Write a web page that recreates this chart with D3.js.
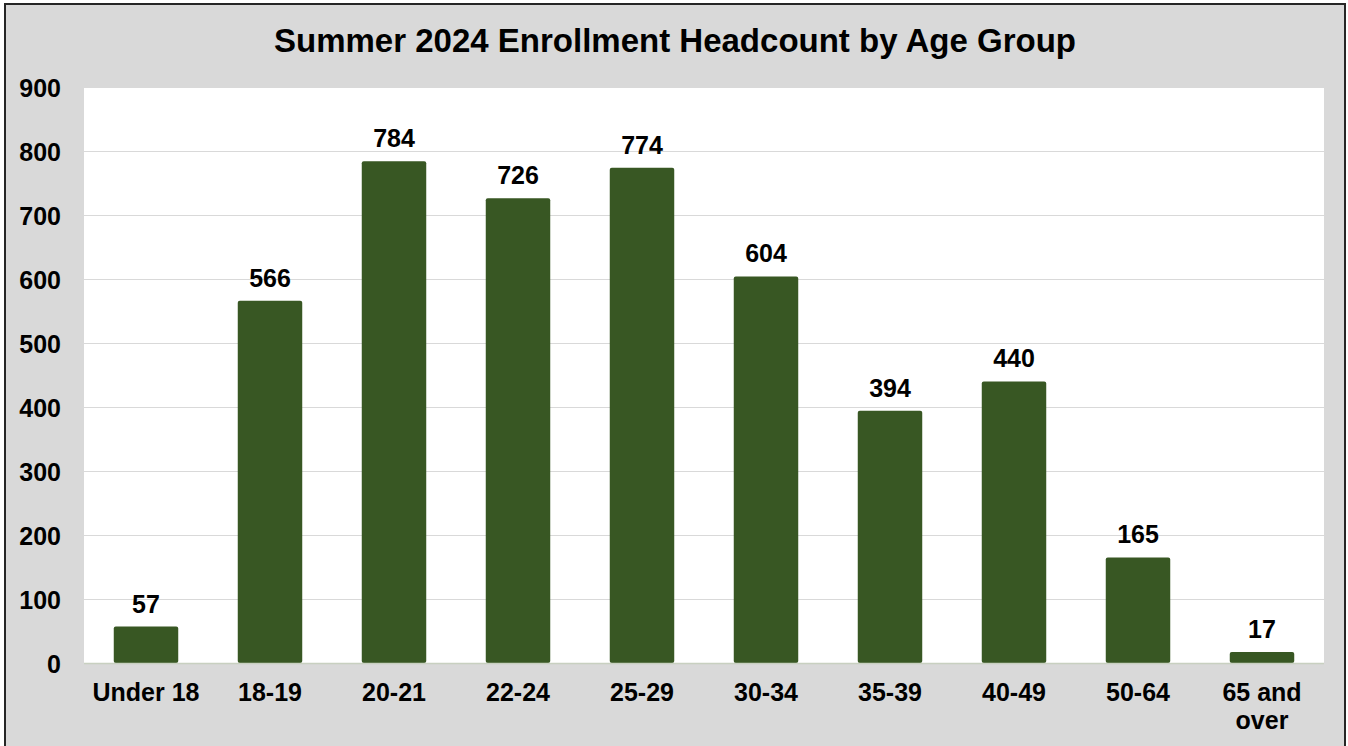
<!DOCTYPE html>
<html><head><meta charset="utf-8">
<script src="https://cdn.jsdelivr.net/npm/d3@7"></script>
<style>body{margin:0;background:#fff;}svg{display:block;font-family:Arial,"Liberation Sans",sans-serif;}</style>
</head><body>
<svg id="c" width="1348" height="746"></svg>
<script>
const categories = ["Under 18","18-19","20-21","22-24","25-29","30-34","35-39","40-49","50-64","65 and over"];
const values = [57,566,784,726,774,604,394,440,165,17];
const yTicks = [0,100,200,300,400,500,600,700,800,900];
const title = "Summer 2024 Enrollment Headcount by Age Group";

const W = 1348, H = 746;
const FONT = "Arial,'Liberation Sans',sans-serif";
const svg = d3.select("#c");
svg.append("rect").attr("x",0).attr("y",0).attr("width",W).attr("height",H).attr("fill","#fff");
svg.append("rect").attr("x",5).attr("y",4).attr("width",1340).attr("height",760)
  .attr("fill","#d9d9d9").attr("stroke","#262626").attr("stroke-width",2);

const m = {left:84, right:1324, top:87, bottom:663};
const x = d3.scaleBand().domain(categories).range([m.left,m.right]).paddingInner(0.48).paddingOuter(0.24);
const y = d3.scaleLinear().domain([0,900]).range([m.bottom,m.top]);

svg.append("rect").attr("x",m.left).attr("y",m.top).attr("width",m.right-m.left).attr("height",m.bottom-m.top).attr("fill","#fff");

svg.append("g").selectAll("line").data(yTicks.slice(1)).join("line")
  .attr("x1",m.left).attr("x2",m.right).attr("y1",d=>y(d)+0.5).attr("y2",d=>y(d)+0.5)
  .attr("stroke","#d9d9d9").attr("stroke-width",1);

const yAxis = svg.append("g").attr("transform",`translate(${m.left},0)`)
  .call(d3.axisLeft(y).tickValues(yTicks).tickSize(0).tickPadding(23));
yAxis.select(".domain").remove();
yAxis.selectAll("text").attr("font-size",25).attr("font-weight","bold").attr("fill","#000")
  .attr("font-family",FONT).attr("dy","0.36em");

svg.append("g").selectAll("rect").data(values).join("rect")
  .attr("x",(d,i)=>x(categories[i])).attr("width",x.bandwidth())
  .attr("y",d=>y(d)).attr("height",d=>y(0)-y(d))
  .attr("rx",2).attr("fill","#385723");

svg.append("line").attr("x1",m.left).attr("x2",m.right).attr("y1",m.bottom+0.5).attr("y2",m.bottom+0.5)
  .attr("stroke","#c8d0c0").attr("stroke-width",1.5);

svg.append("g").selectAll("text").data(values).join("text")
  .attr("x",(d,i)=>x(categories[i])+x.bandwidth()/2).attr("y",d=>y(d)-14)
  .attr("text-anchor","middle").attr("font-size",25).attr("font-weight","bold").attr("fill","#000")
  .attr("font-family",FONT).text(d=>d);

const xAxis = svg.append("g").attr("transform",`translate(0,${m.bottom})`)
  .call(d3.axisBottom(x).tickSize(0).tickPadding(0));
xAxis.select(".domain").remove();
xAxis.selectAll("text").remove();
xAxis.selectAll(".tick").each(function(d){
  const g = d3.select(this);
  const lines = d==="65 and over" ? ["65 and","over"] : [d];
  lines.forEach((l,k)=>g.append("text").attr("y",38+k*28).attr("text-anchor","middle")
    .attr("font-size",25).attr("font-weight","bold").attr("fill","#000")
    .attr("font-family",FONT).text(l));
});

svg.append("text").attr("x",675).attr("y",52).attr("text-anchor","middle")
  .attr("font-size",33).attr("font-weight","bold").attr("fill","#000").attr("font-family",FONT).text(title);
</script>
</body></html>
